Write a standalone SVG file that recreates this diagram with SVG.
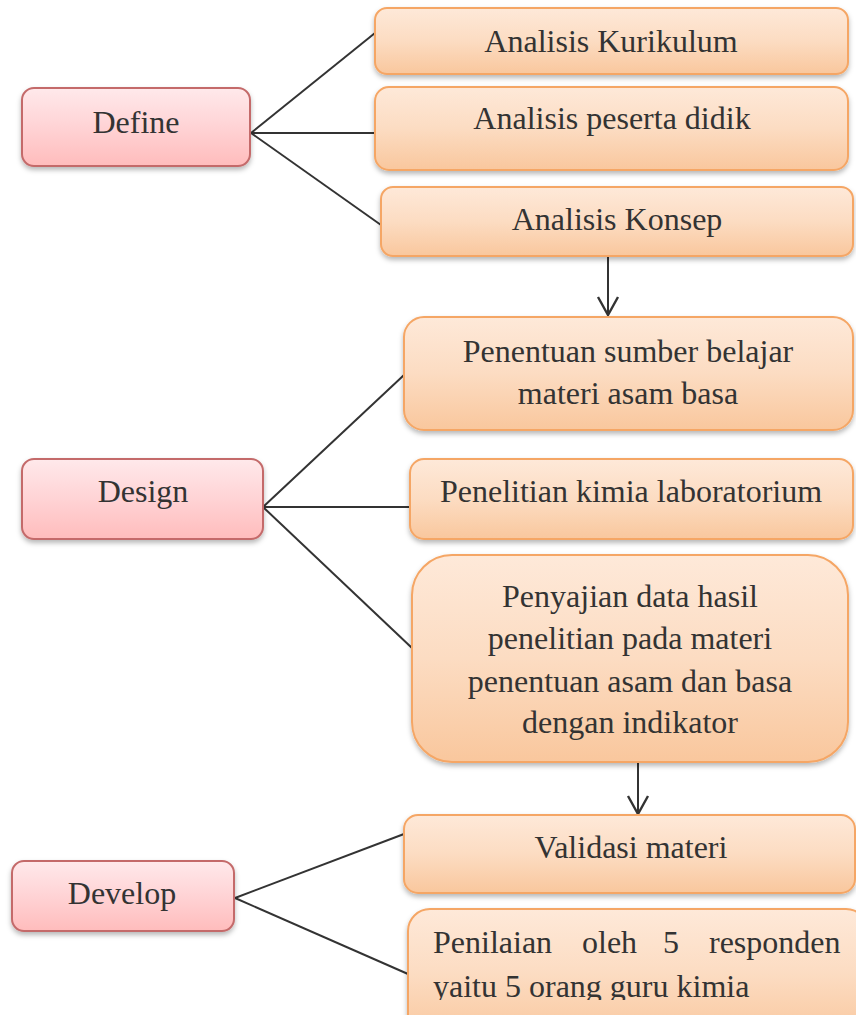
<svg xmlns="http://www.w3.org/2000/svg" width="856" height="1015" viewBox="0 0 856 1015">
<defs>
<linearGradient id="gRed" x1="0" y1="0" x2="0" y2="1">
<stop offset="0" stop-color="#ffe9eb"/>
<stop offset="0.5" stop-color="#ffd3d5"/>
<stop offset="1" stop-color="#ffbcbc"/>
</linearGradient>
<linearGradient id="gOr" x1="0" y1="0" x2="0" y2="1">
<stop offset="0" stop-color="#fee9d9"/>
<stop offset="0.5" stop-color="#fcdcc2"/>
<stop offset="1" stop-color="#f9c79d"/>
</linearGradient>
<filter id="sh" x="-10%" y="-20%" width="120%" height="150%">
<feDropShadow dx="0" dy="3" stdDeviation="2.5" flood-color="#000" flood-opacity="0.28"/>
</filter>
<marker id="arr" markerWidth="24" markerHeight="24" viewBox="-20 -12 24 24" refX="0" refY="0" orient="auto" markerUnits="userSpaceOnUse">
<path d="M-18,-10 L0,0 L-18,10" fill="none" stroke="#333" stroke-width="2.4"/>
</marker>
<clipPath id="clipBottom"><rect x="0" y="0" width="856" height="1000"/></clipPath>
</defs>
<style>
.red{fill:url(#gRed);stroke:#c46a6a;stroke-width:2;filter:url(#sh)}
.or{fill:url(#gOr);stroke:#f5a665;stroke-width:2;filter:url(#sh)}
text{font-family:'Liberation Serif','Times New Roman',Times,serif;font-size:32px;fill:#333333}
.t{text-anchor:middle}
.c{stroke:#333;stroke-width:2;fill:none}
</style>
<rect width="856" height="1015" fill="#ffffff"/>

<g id="connectors">
<line class="c" x1="251" y1="133" x2="375" y2="33"/>
<line class="c" x1="251" y1="133" x2="376" y2="133"/>
<line class="c" x1="251" y1="133" x2="381" y2="225"/>
<line class="c" x1="608" y1="257" x2="608" y2="315" marker-end="url(#arr)"/>
<line class="c" x1="263" y1="507" x2="404" y2="375"/>
<line class="c" x1="263" y1="507" x2="410" y2="507"/>
<line class="c" x1="263" y1="507" x2="412" y2="648"/>
<line class="c" x1="638" y1="763" x2="638" y2="814" marker-end="url(#arr)"/>
<line class="c" x1="235" y1="898" x2="404" y2="834"/>
<line class="c" x1="235" y1="898" x2="408" y2="974"/>
</g>

<g id="define">
<rect class="red" x="22" y="88" width="228" height="78" rx="12"/>
<text class="t" x="136" y="133">Define</text>
</g>
<g id="analisis-kurikulum">
<rect class="or" x="375" y="8" width="473" height="66" rx="12"/>
<text class="t" x="611" y="52">Analisis Kurikulum</text>
</g>
<g id="analisis-peserta">
<rect class="or" x="375" y="87" width="473" height="83" rx="14"/>
<text class="t" x="612" y="129">Analisis peserta didik</text>
</g>
<g id="analisis-konsep">
<rect class="or" x="381" y="187" width="472" height="69" rx="12"/>
<text class="t" x="617" y="230">Analisis Konsep</text>
</g>

<g id="design">
<rect class="red" x="22" y="459" width="241" height="80" rx="12"/>
<text class="t" x="143" y="502">Design</text>
</g>
<g id="penentuan">
<rect class="or" x="404" y="317" width="449" height="113" rx="20"/>
<text class="t" x="628" y="362">Penentuan sumber belajar</text>
<text class="t" x="628" y="404">materi asam basa</text>
</g>
<g id="penelitian">
<rect class="or" x="410" y="459" width="443" height="80" rx="14"/>
<text class="t" x="631" y="502">Penelitian kimia laboratorium</text>
</g>
<g id="penyajian">
<rect class="or" x="412" y="555" width="436" height="207" rx="40"/>
<text class="t" x="630" y="607">Penyajian data hasil</text>
<text class="t" x="630" y="649">penelitian pada materi</text>
<text class="t" x="630" y="692">penentuan asam dan basa</text>
<text class="t" x="630" y="733">dengan indikator</text>
</g>

<g id="develop">
<rect class="red" x="12" y="861" width="222" height="70" rx="12"/>
<text class="t" x="122" y="904">Develop</text>
</g>
<g id="validasi">
<rect class="or" x="404" y="815" width="451" height="78" rx="14"/>
<text class="t" x="631" y="858">Validasi materi</text>
</g>
<g id="penilaian">
<rect class="or" x="408" y="909" width="460" height="130" rx="22"/>
<g clip-path="url(#clipBottom)">
<text y="953"><tspan x="433">Penilaian</tspan><tspan x="582">oleh</tspan><tspan x="663">5</tspan><tspan x="709">responden</tspan></text>
<text x="433" y="997">yaitu 5 orang guru kimia</text>
</g>
</g>
</svg>
